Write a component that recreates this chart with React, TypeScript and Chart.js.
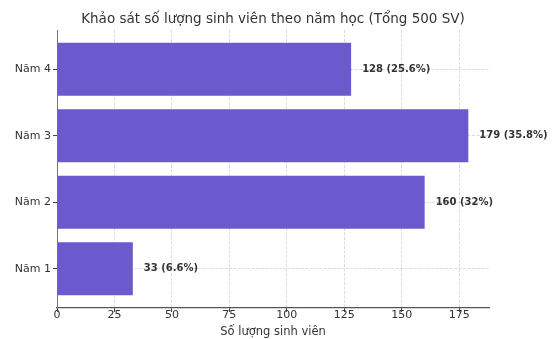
import React, { useEffect, useRef } from "react";
import { Chart, registerables } from "chart.js";

Chart.register(...registerables);

const categories = ["Năm 1", "Năm 2", "Năm 3", "Năm 4"];
const counts = [33, 160, 179, 128];
const total = 500;
const xTicks = [0, 25, 50, 75, 100, 125, 150, 175];
const xMax = 188;
const titleText = "Khảo sát số lượng sinh viên theo năm học (Tổng 500 SV)";
const xTitle = "Số lượng sinh viên";

const FONT = "'DejaVu Sans', sans-serif";

const valueLabels = {
  id: "valueLabels",
  afterDraw(chart: any) {
    const ctx = chart.ctx;
    const xs = chart.scales.x;
    const ys = chart.scales.y;
    ctx.save();
    ctx.font = `bold 10px ${FONT}`;
    ctx.fillStyle = "#333333";
    ctx.textAlign = "left";
    ctx.textBaseline = "middle";
    counts.forEach((v, i) => {
      const pct = parseFloat(((v / total) * 100).toFixed(1));
      const x = xs.getPixelForValue(v) + 11;
      const y = ys.getPixelForValue(i);
      ctx.fillText(`${v} (${pct}%)`, x, y);
    });
    ctx.restore();
  },
};

export default function App() {
  const ref = useRef<HTMLCanvasElement | null>(null);
  useEffect(() => {
    document.body.style.margin = "0";
    if (!ref.current) return;
    const chart = new Chart(ref.current, {
      type: "bar",
      data: {
        datasets: [
          {
            data: counts.map((v, i) => ({ x: v, y: i })),
            backgroundColor: "#6A5ACD",
            borderWidth: 0,
            barPercentage: 0.8,
            categoryPercentage: 1,
          },
        ],
      },
      options: {
        indexAxis: "y",
        responsive: false,
        animation: false,
        layout: { padding: { left: 0, right: 65, top: 0, bottom: 0 } },
        plugins: {
          legend: { display: false },
          tooltip: { enabled: false },
          title: {
            display: true,
            fullSize: false,
            text: titleText,
            color: "#333333",
            font: { family: FONT, size: 13.5, weight: "normal" },
            padding: { top: 11.4, bottom: 2.4 },
          },
        },
        scales: {
          x: {
            type: "linear",
            min: 0,
            max: xMax,
            z: 1,
            afterBuildTicks: (s: any) => {
              s.ticks = xTicks.map((v) => ({ value: v }));
            },
            afterFit: (s: any) => {
              s.height = 31;
            },
            ticks: {
              color: "#333333",
              font: { family: FONT, size: 11 },
              padding: -3,
              maxRotation: 0,
              autoSkip: false,
            },
            grid: {
              color: "rgba(190,190,190,0.7)",
              lineWidth: 0.8,
              tickColor: "#444444",
              tickLength: 4,
              tickBorderDash: [],
              tickWidth: 1,
            },
            border: { display: true, color: "#555555", width: 1.2, dash: [3, 1.5] as any },
            title: {
              display: true,
              text: xTitle,
              color: "#333333",
              font: { family: FONT, size: 11.5 },
              padding: { top: 0, bottom: 0 },
            },
          },
          y: {
            type: "linear",
            min: -0.59,
            max: 3.59,
            offset: false,
            z: 1,
            afterBuildTicks: (s: any) => {
              s.ticks = categories.map((_, i) => ({ value: i }));
            },
            afterFit: (s: any) => {
              s.width = 57;
            },
            ticks: {
              color: "#333333",
              font: { family: FONT, size: 11 },
              padding: 2,
              autoSkip: false,
              callback: (v: any) => categories[Number(v)] ?? "",
            },
            grid: {
              offset: false,
              color: "rgba(190,190,190,0.7)",
              lineWidth: 0.8,
              tickColor: "#444444",
              tickLength: 4,
              tickBorderDash: [],
              tickWidth: 1,
            },
            border: { display: true, color: "#777777", width: 1, dash: [3, 1.5] as any },
          },
        },
      },
      plugins: [valueLabels],
    } as any);
    return () => chart.destroy();
  }, []);
  return (
    <div style={{ width: 554, height: 339 }}>
      <canvas ref={ref} width={554} height={339} />
    </div>
  );
}
